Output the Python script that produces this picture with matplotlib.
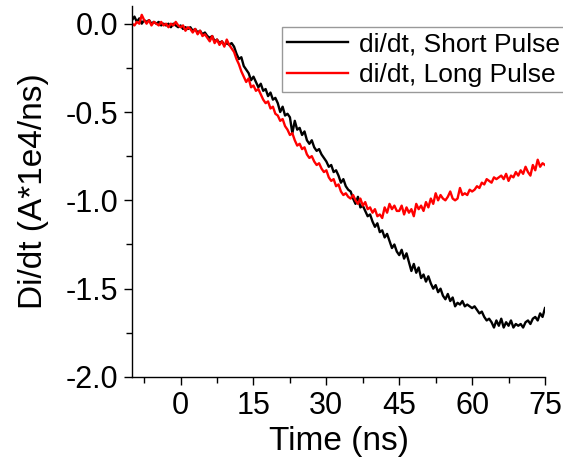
import numpy as np
import matplotlib
matplotlib.use("Agg")
import matplotlib.pyplot as plt

plt.rcParams['font.family'] = ['Liberation Sans', 'DejaVu Sans']

# time axis, 0.5 ns steps from -10 to 75 ns
t_start, t_stop, t_step = -10.0, 75.0, 0.5

short_pulse = [
    0.02, 0.04, 0.01, 0.03, 0.00, 0.02, 0.01, 0.02, 0.00, 0.01,
    0.00, 0.01, -0.01, 0.00, -0.01, 0.00, -0.02, 0.00, -0.01, -0.02,
    -0.01, -0.03, -0.02, -0.03, -0.02, -0.04, -0.03, -0.05, -0.04, -0.06,
    -0.05, -0.07, -0.08, -0.07, -0.10, -0.09, -0.11, -0.10, -0.12, -0.11,
    -0.12, -0.11, -0.13, -0.17, -0.20, -0.19, -0.24, -0.26, -0.28, -0.32,
    -0.30, -0.33, -0.36, -0.34, -0.38, -0.37, -0.41, -0.39, -0.43, -0.42,
    -0.45, -0.50, -0.47, -0.52, -0.51, -0.53, -0.62, -0.55, -0.60, -0.59,
    -0.63, -0.61, -0.66, -0.68, -0.66, -0.70, -0.72, -0.71, -0.74, -0.76,
    -0.78, -0.81, -0.80, -0.84, -0.83, -0.86, -0.90, -0.88, -0.92, -0.94,
    -0.95, -0.99, -1.02, -0.98, -1.04, -1.03, -1.06, -1.09, -1.08, -1.12,
    -1.15, -1.13, -1.18, -1.17, -1.21, -1.19, -1.23, -1.27, -1.25, -1.29,
    -1.31, -1.28, -1.33, -1.30, -1.35, -1.40, -1.36, -1.41, -1.38, -1.44,
    -1.42, -1.46, -1.43, -1.47, -1.50, -1.48, -1.52, -1.50, -1.54, -1.56,
    -1.53, -1.57, -1.55, -1.60, -1.58, -1.59, -1.57, -1.60, -1.59, -1.60,
    -1.61, -1.60, -1.62, -1.64, -1.63, -1.66, -1.68, -1.67, -1.69, -1.72,
    -1.68, -1.71, -1.67, -1.72, -1.69, -1.71, -1.68, -1.72, -1.70, -1.71,
    -1.70, -1.72, -1.69, -1.68, -1.70, -1.67, -1.66, -1.68, -1.64, -1.66,
    -1.61,
]

long_pulse = [
    0.00, -0.01, 0.01, 0.00, 0.05, 0.02, 0.00, 0.02, -0.01, 0.01,
    0.00, -0.01, 0.01, -0.01, 0.00, -0.02, 0.00, -0.01, 0.01, -0.01,
    -0.02, -0.01, -0.04, -0.02, -0.03, -0.05, -0.03, -0.06, -0.04, -0.07,
    -0.06, -0.08, -0.10, -0.07, -0.11, -0.09, -0.12, -0.10, -0.13, -0.09,
    -0.12, -0.14, -0.16, -0.20, -0.23, -0.27, -0.30, -0.33, -0.31, -0.36,
    -0.35, -0.38, -0.37, -0.40, -0.43, -0.45, -0.44, -0.48, -0.47, -0.51,
    -0.52, -0.55, -0.54, -0.58, -0.60, -0.63, -0.62, -0.66, -0.69, -0.68,
    -0.71, -0.70, -0.74, -0.76, -0.75, -0.78, -0.80, -0.79, -0.82, -0.84,
    -0.83, -0.87, -0.89, -0.88, -0.92, -0.91, -0.95, -0.97, -0.96, -0.98,
    -0.99, -0.97, -1.00, -1.02, -0.99, -1.03, -1.01, -1.05, -1.04, -1.07,
    -1.05, -1.09, -1.08, -1.10, -1.04, -1.07, -1.02, -1.05, -1.03, -1.06,
    -1.06, -1.03, -1.08, -1.04, -1.07, -1.05, -1.09, -1.02, -1.05, -1.03,
    -1.06, -1.01, -1.04, -0.99, -1.02, -0.96, -1.00, -0.97, -0.99, -1.00,
    -0.98, -0.95, -0.99, -1.00, -0.99, -0.93, -0.97, -0.96, -0.97, -0.94,
    -0.95, -0.94, -0.92, -0.93, -0.90, -0.91, -0.88, -0.89, -0.90, -0.87,
    -0.88, -0.87, -0.86, -0.88, -0.85, -0.89, -0.86, -0.87, -0.84, -0.86,
    -0.83, -0.85, -0.81, -0.84, -0.86, -0.80, -0.83, -0.77, -0.81, -0.79,
    -0.80,
]

time_ns = np.arange(t_start, t_stop + t_step / 2, t_step)

fig = plt.figure(figsize=(5.63, 4.62), dpi=100)
ax = fig.add_axes([0.2345, 0.184, 0.968 - 0.2345, 0.987 - 0.184])

ax.plot(time_ns, short_pulse, color='black', lw=1.7, label='di/dt, Short Pulse')
ax.plot(time_ns, long_pulse, color='red', lw=1.7, label='di/dt, Long Pulse')

ax.set_xlim(-10, 75)
ax.set_ylim(-2.0, 0.1)
ax.set_xticks([0, 15, 30, 45, 60, 75])
ax.set_xticks(np.arange(-7.5, 75, 15), minor=True)
ax.set_yticks([0.0, -0.5, -1.0, -1.5, -2.0])
ax.set_yticks([-0.25, -0.75, -1.25, -1.75], minor=True)
ax.set_yticklabels(['0.0', '-0.5', '-1.0', '-1.5', '-2.0'])

for s in ['top', 'right']:
    ax.spines[s].set_visible(False)
for s in ['left', 'bottom']:
    ax.spines[s].set_linewidth(1.0)

ax.tick_params(which='major', direction='out', length=6, width=1.0, labelsize=22, pad=4)
ax.tick_params(which='minor', direction='out', length=4, width=1.0)

ax.set_xlabel('Time (ns)', fontsize=24, labelpad=4)
ax.set_ylabel('Di/dt (A*1e4/ns)', fontsize=24, labelpad=12)

leg = ax.legend(loc='upper left', bbox_to_anchor=(282 / 563, 1 - 27 / 462),
                bbox_transform=fig.transFigure, fontsize=19, frameon=True,
                fancybox=False, borderpad=0.2, labelspacing=0.25,
                handlelength=2.3, handletextpad=0.4, borderaxespad=0)
leg.get_frame().set_edgecolor('gray')
leg.get_frame().set_linewidth(1.0)

fig.savefig('out.png', dpi=100)
